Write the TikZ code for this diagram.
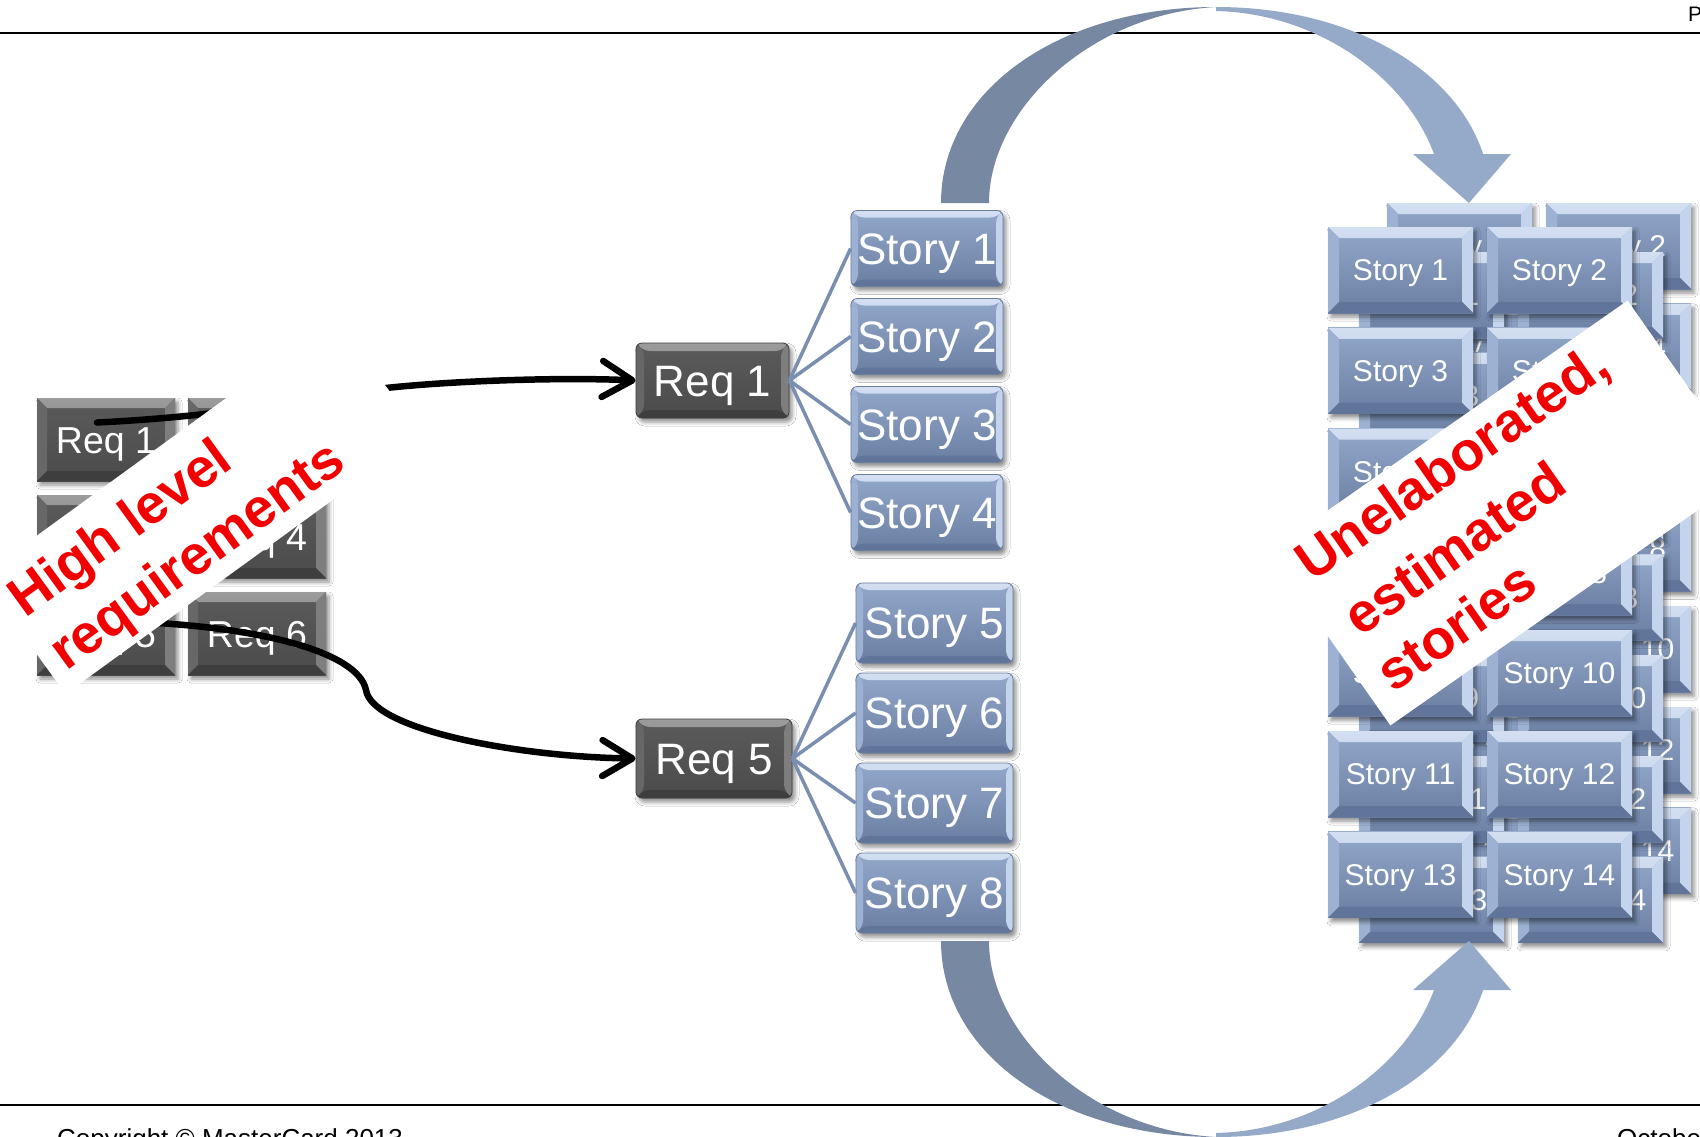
\documentclass[tikz,border=0pt]{standalone}
\usepackage{fontspec}
\setmainfont{Liberation Sans}
\usetikzlibrary{arrows.meta,shadows.blur,calc}

\definecolor{arcdark}{HTML}{7788A3}
\definecolor{arclight}{HTML}{95A9C8}
\definecolor{storytop}{HTML}{92A8CB}
\definecolor{storybot}{HTML}{6A7EA1}
\definecolor{bevlight}{HTML}{D3DFF1}
\definecolor{bevmid}{HTML}{A9BDDC}
\definecolor{bevleft}{HTML}{9DB2D3}
\definecolor{bevright}{HTML}{C4D4EC}
\definecolor{bevbot}{HTML}{61749A}
\definecolor{reqtop}{HTML}{5B5B5B}
\definecolor{reqbot}{HTML}{4B4B4B}
\definecolor{greylight}{HTML}{9C9C9C}
\definecolor{greymid}{HTML}{717171}
\definecolor{greyleft}{HTML}{676767}
\definecolor{greyright}{HTML}{7E7E7E}
\definecolor{greybot}{HTML}{3E3E3E}
\definecolor{linkblue}{HTML}{7A8EAF}
\definecolor{bannerred}{HTML}{F20000}

\tikzset{
  % bevelled face: #1 bevel size, #2/#3 top strip (outer/inner), #4 left, #5 right, #6 bottom
  bevel/.style n args={6}{path picture={
    \shade[top color=#2, bottom color=#3]
      (path picture bounding box.north west) -- (path picture bounding box.north east)
      -- ($(path picture bounding box.north east)+(-#1,#1)$)
      -- ($(path picture bounding box.north west)+(#1,#1)$) -- cycle;
    \fill[#4]
      (path picture bounding box.north west) -- ($(path picture bounding box.north west)+(#1,#1)$)
      -- ($(path picture bounding box.south west)+(#1,-#1)$) -- (path picture bounding box.south west) -- cycle;
    \fill[#5]
      (path picture bounding box.north east) -- (path picture bounding box.south east)
      -- ($(path picture bounding box.south east)+(-#1,-#1)$)
      -- ($(path picture bounding box.north east)+(-#1,#1)$) -- cycle;
    \fill[#6]
      (path picture bounding box.south west) -- ($(path picture bounding box.south west)+(#1,-#1)$)
      -- ($(path picture bounding box.south east)+(-#1,-#1)$) -- (path picture bounding box.south east) -- cycle;
  }},
  softshadow/.style={blur shadow={shadow xshift=3pt, shadow yshift=-4pt,
      shadow blur radius=4pt, shadow opacity=45}},
  bluebox/.style={rectangle, inner sep=0pt, text=white, top color=storytop,
      bottom color=storybot, softshadow},
  greybox/.style={rectangle, inner sep=0pt, text=white, top color=reqtop,
      bottom color=reqbot, softshadow},
  clusterbox/.style={bluebox, minimum width=145pt, minimum height=86pt,
      bevel={11}{bevlight}{bevmid}{bevleft}{bevright}{bevbot},
      font=\fontsize{30}{30}\selectfont, text height=21.5pt, text depth=0pt},
  midstory/.style={bluebox, rounded corners=6pt, draw=storybot, line width=0.8pt,
      bevel={7}{bevlight}{bevmid}{bevleft}{bevright}{bevbot},
      font=\fontsize{44}{44}\selectfont, text height=31.5pt, text depth=0pt},
  midreq/.style={greybox, rounded corners=6pt, draw=greybot, line width=0.8pt,
      bevel={8}{greylight}{greymid}{greyleft}{greyright}{greybot},
      font=\fontsize{44}{44}\selectfont, text height=31.5pt, text depth=0pt},
  gridreq/.style={greybox, minimum width=138pt, minimum height=83pt,
      bevel={10}{greylight}{greymid}{greyleft}{greyright}{greybot},
      font=\fontsize{37.5}{37.5}\selectfont, text height=27pt, text depth=0pt},
  link/.style={draw=linkblue, line width=3.5pt},
  flow/.style={draw=black, line width=6.5pt, line cap=round,
      -{Straight Barb[length=30pt, width=36pt, round]}},
  banner/.style={fill=white, inner sep=0pt},
  bannertext/.style={text=bannerred, inner sep=0pt,
      font=\fontsize{55}{55}\selectfont\bfseries},
  pagetext/.style={inner sep=0pt, font=\fontsize{26}{26}\selectfont},
}

% curved band arrow: dark back half, light front half with head
\newcommand{\loopband}{%
  \fill[arcdark] (941,203) .. controls (941,90) and (1060,7) .. (1216,7)
    .. controls (1090,14) and (989,110) .. (989,203) -- cycle;
  \begin{scope}
    \clip (1200,-20) rectangle (1530,154);
    \fill[arclight] (1216,7) .. controls (1372,7) and (1491,90) .. (1491,203)
      -- (1443,203) .. controls (1443,110) and (1342,14) .. (1216,11) -- cycle;
  \end{scope}
  \fill[arclight] (1413,154) -- (1511,154) -- (1469,203) -- cycle;
}

\begin{document}
\begin{tikzpicture}[x=1pt, y=-1pt]
\useasboundingbox (0,0) rectangle (1700,1136);
\clip (0,0) rectangle (1700,1136);
\fill[white] (0,0) rectangle (1700,1136);

% header and footer rules
\draw[line width=2pt] (0,33) -- (1700,33);
\draw[line width=2pt] (0,1105) -- (1700,1105);
\node[anchor=base west, inner sep=0pt, font=\fontsize{21}{21}\selectfont] (pagemark) at (1688,21) {P};
\node[pagetext, anchor=base west] (copyright) at (57,1147) {Copyright © MasterCard 2013};
\node[pagetext, anchor=base west] (datemark) at (1617,1147) {October};

% middle column: two requirements and their stories
\node[midreq, minimum width=153pt, minimum height=75pt] (mreq1) at (712.5,380.5) {Req 1};
\node[midreq, minimum width=156pt, minimum height=79pt] (mreq5) at (714,758.5) {Req 5};
\foreach \s/\y in {1/248.5, 2/336.5, 3/424.5, 4/512.5}
  \node[midstory, minimum width=152pt, minimum height=76pt] (ms\s) at (927,\y) {Story \s};
\foreach \s/\y in {5/623, 6/713, 7/803, 8/893}
  \node[midstory, minimum width=157pt, minimum height=80pt] (ms\s) at (934.5,\y) {Story \s};
\foreach \s in {1,...,4} \draw[link] (mreq1.east) -- (ms\s.west);
\foreach \s in {5,...,8} \draw[link] (mreq5.east) -- (ms\s.west);

% left grid of high level requirements
\foreach \r/\y in {0/439.5, 1/536.5, 2/633.5}
  \foreach \c/\x in {0/106, 1/257} {
    \pgfmathtruncatemacro\n{2*\r+\c+1}
    \node[gridreq] (lreq\n) at (\x,\y) {Req \n};
  }

% picking requirements out of the grid
\draw[flow] ([shift={(-9,-17)}]lreq1.center) .. controls (250,415) and (330,393) .. (386,388)
  .. controls (450,381) and (560,377) .. (mreq1.west);
\draw[flow] ([shift={(20,-12)}]lreq5.center) .. controls (260,626) and (358,652) .. (366,690)
  .. controls (372,730) and (520,757) .. (mreq5.west);

\node[banner, minimum width=440pt, minimum height=145pt, rotate=36] (hlbanner) at (201,506) {};
\node[bannertext, anchor=base west, rotate=36] (hlline1) at (25,619) {High level};
\node[bannertext, anchor=base west, rotate=36] (hlline2) at (66,672) {requirements};

% stacked backlog of stories: back, middle and front layers
\foreach \layer/\dx/\dy in {back/59/-24, mid/31/25, front/0/0}
  \foreach \k in {0,...,6}
    \foreach \c in {0,1} {
      \pgfmathtruncatemacro\n{2*\k+\c+1}
      \node[clusterbox] (\layer-\n) at ({1400.5+159*\c+\dx},{270+100.8*\k+\dy}) {Story \n};
    }

% curved arrows above and below the story column
\loopband
\begin{scope}[shift={(0,1144)}, yscale=-1]
  \loopband
\end{scope}

\node[banner, minimum width=438pt, minimum height=212pt, rotate=35] (uebanner) at (1509,513) {};
\node[bannertext, anchor=base west, rotate=35] (ueline1) at (1312,583) {Unelaborated,};
\node[bannertext, anchor=base west, rotate=35] (ueline2) at (1360,638) {estimated};
\node[bannertext, anchor=base west, rotate=35] (ueline3) at (1393,694) {stories};
\end{tikzpicture}
\end{document}
